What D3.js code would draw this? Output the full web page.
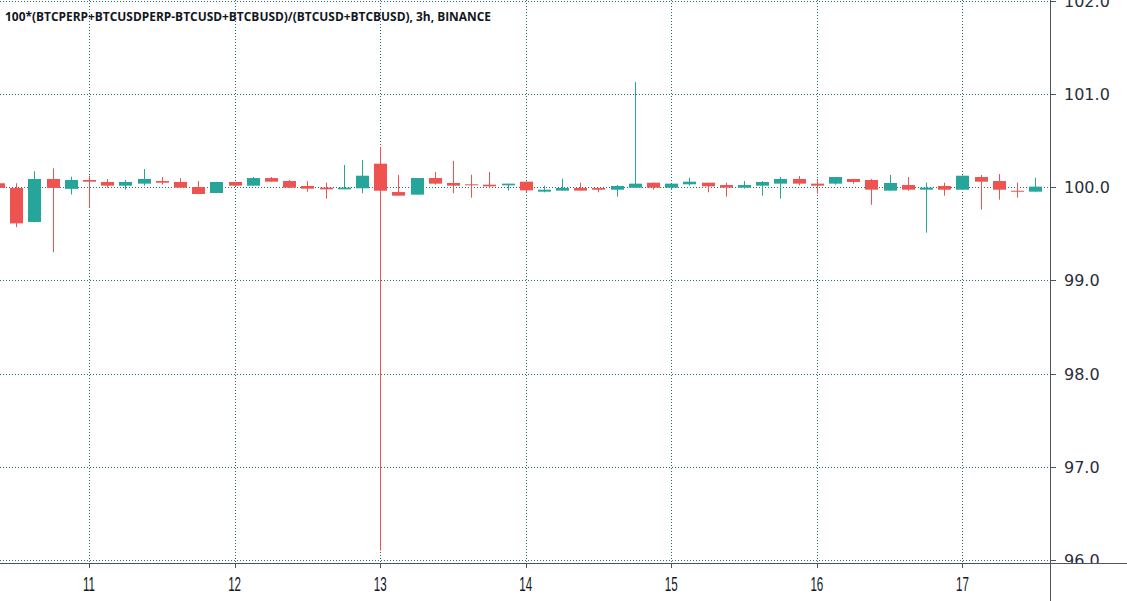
<!DOCTYPE html>
<html>
<head>
<meta charset="utf-8">
<script src="https://cdn.jsdelivr.net/npm/d3@7"></script>
<style>
  html, body { margin: 0; padding: 0; background: #ffffff; }
  svg { display: block; }
</style>
</head>
<body>
<svg id="chart" width="1127" height="601"></svg>
<script>
// ---- data (3h candles, day hh:mm) ----
const times = [
  "10 09:00","10 12:00","10 15:00","10 18:00","10 21:00",
  "11 00:00","11 03:00","11 06:00","11 09:00","11 12:00","11 15:00","11 18:00","11 21:00",
  "12 00:00","12 03:00","12 06:00","12 09:00","12 12:00","12 15:00","12 18:00","12 21:00",
  "13 00:00","13 03:00","13 06:00","13 09:00","13 12:00","13 15:00","13 18:00","13 21:00",
  "14 00:00","14 03:00","14 06:00","14 09:00","14 12:00","14 15:00","14 18:00","14 21:00",
  "15 00:00","15 03:00","15 06:00","15 09:00","15 12:00","15 15:00","15 18:00","15 21:00",
  "16 00:00","16 03:00","16 06:00","16 09:00","16 12:00","16 15:00","16 18:00","16 21:00",
  "17 00:00","17 03:00","17 06:00","17 09:00","17 12:00"
];
const open = [
  100.04, 99.99, 99.625, 100.086, 99.98,
  100.075, 100.054, 100.014, 100.036, 100.064, 100.054, 100.0, 99.936,
  100.054, 100.014, 100.096, 100.064, 100.011, 99.993, 99.975, 99.986,
  100.25, 99.946, 99.918, 100.096, 100.043, 100.029, 100.025, 100.018,
  100.057, 99.95, 99.961, 99.989, 99.989, 99.971, 99.993, 100.046,
  99.993, 100.029, 100.046, 100.021, 99.993, 100.014, 100.036, 100.086,
  100.036, 100.036, 100.086, 100.075, 99.961, 100.021, 99.971, 100.011,
  99.971, 100.107, 100.064, 99.96, 99.95
];
const high = [
  100.05, 100.04, 100.17, 100.20, 100.11,
  100.12, 100.086, 100.075, 100.193, 100.107, 100.096, 100.064, 100.054,
  100.054, 100.107, 100.107, 100.075, 100.064, 100.046, 100.236, 100.29,
  100.43, 100.129, 100.096, 100.161, 100.28, 100.132, 100.161, 100.036,
  100.057, 100.014, 100.089, 100.046, 99.989, 100.021, 101.125, 100.046,
  100.036, 100.1, 100.046, 100.046, 100.064, 100.064, 100.107, 100.118,
  100.086, 100.107, 100.086, 100.086, 100.129, 100.107, 100.046, 100.046,
  100.121, 100.129, 100.139, 100.046, 100.1
];
const low = [
  99.98, 99.57, 99.62, 99.30, 99.92,
  99.78, 99.993, 99.971, 100.014, 100.025, 99.993, 99.925, 99.936,
  100.014, 100.014, 100.057, 99.993, 99.95, 99.875, 99.975, 99.932,
  96.10, 99.907, 99.918, 100.025, 99.932, 99.886, 99.986, 99.961,
  99.943, 99.943, 99.961, 99.961, 99.943, 99.896, 99.993, 99.971,
  99.971, 100.014, 99.943, 99.896, 99.982, 99.907, 99.875, 100.018,
  99.928, 100.025, 100.036, 99.81, 99.961, 99.961, 99.51, 99.907,
  99.971, 99.757, 99.864, 99.886, 99.95
];
const close = [
  99.99, 99.61, 100.086, 99.99, 100.075,
  100.057, 100.014, 100.054, 100.086, 100.046, 99.993, 99.925, 100.054,
  100.014, 100.096, 100.057, 99.993, 99.982, 99.975, 99.993, 100.121,
  99.96, 99.907, 100.096, 100.036, 100.014, 100.018, 100.007, 100.036,
  99.964, 99.971, 99.989, 99.961, 99.971, 100.011, 100.036, 99.993,
  100.036, 100.057, 100.007, 99.993, 100.021, 100.054, 100.086, 100.036,
  100.014, 100.107, 100.054, 99.971, 100.043, 99.971, 99.993, 99.971,
  100.121, 100.057, 99.971, 99.95, 100.004
];
const dayTicks = [11, 12, 13, 14, 15, 16, 17];
const priceTicks = [96, 97, 98, 99, 100, 101, 102];
const titleText = "100*(BTCPERP+BTCUSDPERP-BTCUSD+BTCBUSD)/(BTCUSD+BTCBUSD), 3h, BINANCE";

// ---- layout ----
const W = 1127, H = 601;
const plotRight = 1050, plotBottom = 563;
const UP = "#26a69a", DOWN = "#ef5350";
const GRID = "#2a6e70", AXIS = "#50535e", TEXT = "#131722";

const toHours = s => {
  const [d, hm] = s.split(" ");
  return (+d - 10) * 24 + (+hm.split(":")[0]);
};
const candles = times.map((t, i) => ({
  h: toHours(t), o: open[i], hi: high[i], lo: low[i], c: close[i]
}));

const x = d3.scaleLinear().domain([24, 168]).range([89, 962.4]);
const y = d3.scaleLinear().domain([96, 102]).range([560, 0.5]);

const svg = d3.select("#chart");
const defs = svg.append("defs");
defs.append("clipPath").attr("id", "plotClip")
  .append("rect").attr("x", 0).attr("y", 0).attr("width", plotRight).attr("height", plotBottom);
defs.append("clipPath").attr("id", "yClip")
  .append("rect").attr("x", plotRight).attr("y", 0).attr("width", W - plotRight).attr("height", plotBottom);

// grid
const grid = svg.append("g").attr("clip-path", "url(#plotClip)");
grid.selectAll("line.hg").data(priceTicks).join("line")
  .attr("x1", 0).attr("x2", plotRight)
  .attr("y1", d => Math.round(y(d)) + 0.5).attr("y2", d => Math.round(y(d)) + 0.5)
  .attr("stroke", GRID).attr("stroke-width", 1).attr("stroke-dasharray", "1,2");
grid.selectAll("line.vg").data(dayTicks).join("line")
  .attr("x1", d => Math.round(x(d * 24 - 240)) + 0.5).attr("x2", d => Math.round(x(d * 24 - 240)) + 0.5)
  .attr("y1", 0).attr("y2", plotBottom)
  .attr("stroke", GRID).attr("stroke-width", 1).attr("stroke-dasharray", "1,2");

// candles
const cg = svg.append("g").attr("clip-path", "url(#plotClip)");
const bw = 13;
const cs = cg.selectAll("g.c").data(candles).join("g");
cs.append("line")
  .attr("x1", d => Math.round(x(d.h)) + 0.5).attr("x2", d => Math.round(x(d.h)) + 0.5)
  .attr("y1", d => y(d.hi)).attr("y2", d => y(d.lo))
  .attr("stroke", d => d.c >= d.o ? UP : DOWN).attr("stroke-width", 1);
cs.append("rect")
  .attr("x", d => Math.round(x(d.h)) + 0.5 - bw / 2)
  .attr("y", d => y(Math.max(d.o, d.c)))
  .attr("width", bw)
  .attr("height", d => Math.max(1, y(Math.min(d.o, d.c)) - y(Math.max(d.o, d.c))))
  .attr("fill", d => d.c >= d.o ? UP : DOWN);

// axes lines
svg.append("line").attr("x1", plotRight + 0.5).attr("x2", plotRight + 0.5)
  .attr("y1", 0).attr("y2", H).attr("stroke", AXIS).attr("stroke-width", 1);
svg.append("line").attr("x1", 0).attr("x2", W)
  .attr("y1", plotBottom + 0.5).attr("y2", plotBottom + 0.5).attr("stroke", AXIS).attr("stroke-width", 1);

// y axis ticks and labels
const ya = svg.append("g");
ya.selectAll("line").data(priceTicks).join("line")
  .attr("x1", plotRight).attr("x2", plotRight + 6)
  .attr("y1", d => Math.round(y(d)) + 0.5).attr("y2", d => Math.round(y(d)) + 0.5)
  .attr("stroke", AXIS);
ya.append("g").attr("clip-path", "url(#yClip)")
  .selectAll("text").data(priceTicks).join("text")
  .attr("x", 1064).attr("y", d => y(d) + 6)
  .attr("font-family", "DejaVu Sans, sans-serif").attr("font-size", 16)
  .attr("fill", "#2a2e39")
  .text(d => d3.format(".1f")(d));

// x axis ticks and labels
const xa = svg.append("g");
xa.selectAll("line").data(dayTicks).join("line")
  .attr("x1", d => Math.round(x(d * 24 - 240)) + 0.5).attr("x2", d => Math.round(x(d * 24 - 240)) + 0.5)
  .attr("y1", plotBottom).attr("y2", plotBottom + 5)
  .attr("stroke", AXIS);
xa.selectAll("text").data(dayTicks).join("text")
  .attr("transform", d => `translate(${x(d * 24 - 240)},591) scale(0.58,1)`)
  .attr("text-anchor", "middle")
  .attr("font-family", "Liberation Sans, Arial, sans-serif").attr("font-size", 20)
  .attr("fill", TEXT)
  .text(d => d);

// title
svg.append("text")
  .attr("x", 5).attr("y", 21)
  .attr("font-family", "Open Sans, sans-serif").attr("font-weight", "bold").attr("font-size", 11.5)
  .attr("fill", TEXT)
  .attr("textLength", 486).attr("lengthAdjust", "spacingAndGlyphs")
  .text(titleText);
</script>
</body>
</html>
